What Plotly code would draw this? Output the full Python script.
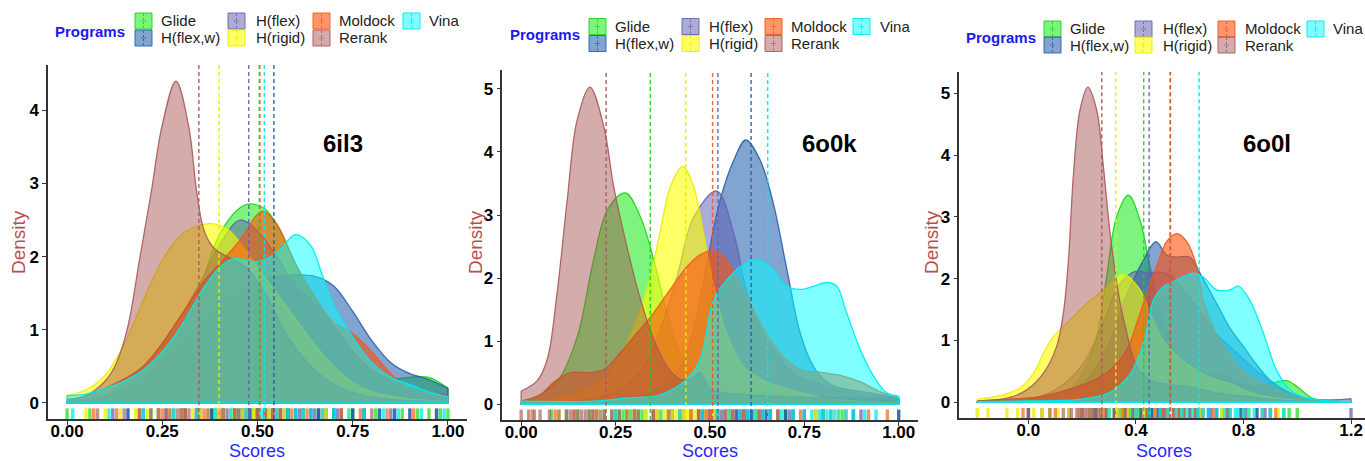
import plotly.graph_objects as go

W, H = 1365, 461

PROGRAMS = ["Glide", "H(flex,w)", "H(flex)", "H(rigid)", "Moldock", "Rerank", "Vina"]
PANEL_TITLES = ["6il3", "6o0k", "6o0l"]

# ---------------- Panel 1 (6il3) density curves ----------------
P1_GLIDE_X = [0.0, 0.1, 0.2, 0.25, 0.3, 0.35, 0.4, 0.45, 0.48, 0.52, 0.56, 0.6, 0.65, 0.7, 0.75, 0.8, 0.85, 0.9, 0.95, 1.0]
P1_GLIDE_Y = [0.02, 0.08, 0.3, 0.6, 1.0, 1.6, 2.3, 2.65, 2.72, 2.65, 2.35, 1.9, 1.45, 1.05, 0.7, 0.45, 0.33, 0.35, 0.35, 0.2]
P1_HFLEXW_X = [0.0, 0.1, 0.2, 0.3, 0.4, 0.5, 0.55, 0.6, 0.65, 0.7, 0.75, 0.8, 0.85, 0.9, 0.95, 1.0]
P1_HFLEXW_Y = [0.02, 0.08, 0.3, 0.8, 1.35, 1.65, 1.72, 1.75, 1.73, 1.6, 1.25, 0.85, 0.55, 0.4, 0.32, 0.2]
P1_HFLEX_X = [0.0, 0.1, 0.2, 0.3, 0.35, 0.4, 0.454, 0.5, 0.55, 0.6, 0.65, 0.7, 0.75, 0.8, 0.85, 0.9, 1.0]
P1_HFLEX_Y = [0.01, 0.1, 0.5, 1.2, 1.65, 2.15, 2.5, 2.35, 2.0, 1.6, 1.35, 1.05, 0.7, 0.45, 0.3, 0.2, 0.1]
P1_HRIGID_X = [0.0, 0.05, 0.1, 0.15, 0.2, 0.25, 0.3, 0.35, 0.38, 0.42, 0.46, 0.5, 0.55, 0.6, 0.65, 0.7, 0.75, 0.8, 0.9, 1.0]
P1_HRIGID_Y = [0.1, 0.18, 0.38, 0.8, 1.4, 1.95, 2.3, 2.43, 2.45, 2.38, 2.15, 1.85, 1.5, 1.15, 0.8, 0.5, 0.28, 0.15, 0.05, 0.02]
P1_MOLDOCK_X = [0.0, 0.1, 0.2, 0.3, 0.35, 0.4, 0.45, 0.5, 0.515, 0.55, 0.6, 0.65, 0.7, 0.75, 0.8, 0.85, 0.9, 1.0]
P1_MOLDOCK_Y = [0.02, 0.2, 0.5, 1.2, 1.6, 1.9, 2.2, 2.58, 2.62, 2.45, 1.9, 1.45, 1.1, 0.95, 0.7, 0.4, 0.2, 0.1]
P1_RERANK_X = [0.0, 0.05, 0.1, 0.13, 0.16, 0.19, 0.22, 0.25, 0.286, 0.32, 0.34, 0.36, 0.385, 0.42, 0.47, 0.52, 0.58, 0.65, 0.72, 0.8, 0.9, 1.0]
P1_RERANK_Y = [0.05, 0.1, 0.3, 0.55, 1.05, 1.95, 2.85, 3.8, 4.4, 3.76, 2.9, 2.35, 2.12, 2.0, 1.85, 1.5, 0.9, 0.45, 0.2, 0.08, 0.03, 0.02]
P1_VINA_X = [0.0, 0.05, 0.1, 0.15, 0.2, 0.25, 0.3, 0.35, 0.4, 0.437, 0.47, 0.5, 0.55, 0.6, 0.64, 0.67, 0.7, 0.75, 0.8, 0.85, 0.9, 0.95, 1.0]
P1_VINA_Y = [0.1, 0.12, 0.2, 0.3, 0.45, 0.7, 1.05, 1.5, 1.85, 1.97, 1.95, 1.93, 2.05, 2.3, 2.15, 1.75, 1.35, 0.9, 0.55, 0.35, 0.25, 0.15, 0.08]
P1_MEANS = [0.505, 0.543, 0.477, 0.399, 0.506, 0.346, 0.518]

# ---------------- Panel 2 (6o0k) density curves ----------------
P2_GLIDE_X = [0.0, 0.05, 0.1, 0.15, 0.19, 0.23, 0.276, 0.316, 0.351, 0.386, 0.42, 0.457, 0.5, 0.6, 0.7, 0.8, 0.9, 1.0]
P2_GLIDE_Y = [0.05, 0.15, 0.4, 1.1, 2.24, 3.1, 3.35, 2.97, 2.29, 1.45, 0.82, 0.5, 0.35, 0.2, 0.15, 0.12, 0.1, 0.05]
P2_HFLEXW_X = [0.0, 0.2, 0.369, 0.413, 0.457, 0.492, 0.527, 0.563, 0.595, 0.633, 0.668, 0.704, 0.739, 0.774, 0.81, 0.85, 0.9, 0.95, 1.0]
P2_HFLEXW_Y = [0.02, 0.05, 0.25, 0.5, 1.2, 2.24, 3.24, 3.87, 4.19, 3.87, 3.18, 2.13, 1.13, 0.6, 0.35, 0.25, 0.2, 0.15, 0.1]
P2_HFLEX_X = [0.0, 0.2, 0.28, 0.325, 0.369, 0.413, 0.457, 0.518, 0.563, 0.598, 0.633, 0.677, 0.72, 0.8, 0.9, 1.0]
P2_HFLEX_Y = [0.02, 0.1, 0.3, 0.6, 1.2, 2.03, 2.97, 3.38, 2.71, 1.76, 1.2, 0.8, 0.5, 0.3, 0.15, 0.1]
P2_HRIGID_X = [0.0, 0.1, 0.192, 0.236, 0.28, 0.333, 0.369, 0.395, 0.428, 0.457, 0.483, 0.51, 0.545, 0.589, 0.65, 0.7, 0.8, 0.9, 1.0]
P2_HRIGID_Y = [0.02, 0.1, 0.3, 0.5, 0.97, 1.82, 2.76, 3.45, 3.77, 3.45, 2.71, 1.87, 1.1, 0.6, 0.35, 0.25, 0.1, 0.05, 0.02]
P2_MOLDOCK_X = [0.0, 0.051, 0.086, 0.13, 0.175, 0.219, 0.263, 0.307, 0.351, 0.395, 0.439, 0.474, 0.505, 0.536, 0.571, 0.607, 0.651, 0.695, 0.739, 0.8, 0.85, 0.9, 0.95, 1.0]
P2_MOLDOCK_Y = [0.05, 0.15, 0.35, 0.5, 0.5, 0.55, 0.82, 1.13, 1.45, 1.82, 2.18, 2.37, 2.43, 2.34, 2.03, 1.6, 1.1, 0.75, 0.55, 0.5, 0.45, 0.35, 0.2, 0.1]
P2_RERANK_X = [0.0, 0.042, 0.069, 0.095, 0.122, 0.148, 0.182, 0.219, 0.245, 0.28, 0.316, 0.351, 0.386, 0.42, 0.45, 0.474, 0.5, 0.6, 0.8, 1.0]
P2_RERANK_Y = [0.21, 0.37, 0.71, 1.76, 3.24, 4.5, 5.03, 4.4, 3.45, 2.5, 1.66, 1.03, 0.6, 0.4, 0.4, 0.5, 0.25, 0.15, 0.1, 0.1]
P2_VINA_X = [0.0, 0.19, 0.28, 0.369, 0.439, 0.474, 0.51, 0.545, 0.58, 0.62, 0.66, 0.704, 0.739, 0.774, 0.81, 0.836, 0.862, 0.898, 0.933, 0.968, 1.0]
P2_VINA_Y = [0.05, 0.05, 0.1, 0.15, 0.4, 0.71, 1.66, 1.97, 2.18, 2.3, 2.18, 1.87, 1.82, 1.87, 1.93, 1.87, 1.45, 0.87, 0.45, 0.18, 0.13]
P2_MEANS = [0.342, 0.609, 0.521, 0.436, 0.507, 0.225, 0.653]

# ---------------- Panel 3 (6o0l) density curves ----------------
P3_GLIDE_X = [-0.19, 0.0, 0.155, 0.205, 0.254, 0.291, 0.328, 0.372, 0.415, 0.452, 0.49, 0.539, 0.589, 0.65, 0.7, 0.75, 0.8, 0.85, 0.9, 0.96, 1.0, 1.05, 1.1, 1.2]
P3_GLIDE_Y = [0.01, 0.05, 0.2, 0.5, 1.06, 2.03, 3.0, 3.35, 2.95, 2.2, 1.5, 0.9, 0.55, 0.45, 0.45, 0.4, 0.3, 0.25, 0.3, 0.35, 0.25, 0.08, 0.02, 0.01]
P3_HFLEXW_X = [-0.19, 0.0, 0.18, 0.242, 0.304, 0.353, 0.403, 0.428, 0.474, 0.515, 0.55, 0.6, 0.638, 0.7, 0.75, 0.8, 0.85, 0.9, 0.95, 1.0, 1.05, 1.2]
P3_HFLEXW_Y = [0.01, 0.05, 0.25, 0.5, 1.0, 1.6, 2.09, 2.3, 2.6, 2.38, 2.35, 2.35, 2.09, 1.6, 1.2, 0.9, 0.6, 0.35, 0.2, 0.1, 0.03, 0.01]
P3_HFLEX_X = [-0.19, 0.0, 0.1, 0.2, 0.28, 0.33, 0.37, 0.4, 0.45, 0.5, 0.53, 0.58, 0.65, 0.7, 0.75, 0.8, 0.85, 0.9, 0.95, 1.0, 1.05, 1.1, 1.15, 1.2]
P3_HFLEX_Y = [0.01, 0.05, 0.2, 0.6, 1.3, 1.85, 2.05, 2.12, 2.1, 2.1, 2.05, 1.8, 1.4, 1.1, 0.9, 0.7, 0.5, 0.35, 0.2, 0.1, 0.05, 0.04, 0.04, 0.06]
P3_HRIGID_X = [-0.19, -0.093, -0.031, 0.019, 0.056, 0.093, 0.143, 0.205, 0.279, 0.353, 0.415, 0.452, 0.502, 0.552, 0.614, 0.676, 0.75, 0.8, 0.85, 0.9, 1.0, 1.2]
P3_HRIGID_Y = [0.05, 0.12, 0.23, 0.47, 0.79, 1.06, 1.28, 1.55, 1.82, 2.07, 1.82, 1.44, 1.0, 0.75, 0.55, 0.4, 0.3, 0.2, 0.12, 0.08, 0.03, 0.01]
P3_MOLDOCK_X = [-0.19, -0.07, 0.056, 0.18, 0.242, 0.304, 0.366, 0.403, 0.44, 0.477, 0.514, 0.552, 0.589, 0.626, 0.65, 0.7, 0.75, 0.8, 0.85, 0.9, 0.95, 1.0, 1.05, 1.2]
P3_MOLDOCK_Y = [0.02, 0.05, 0.1, 0.25, 0.35, 0.52, 0.85, 1.28, 1.76, 2.2, 2.6, 2.73, 2.6, 2.2, 1.65, 1.1, 0.75, 0.5, 0.35, 0.25, 0.15, 0.08, 0.03, 0.01]
P3_RERANK_X = [-0.19, -0.068, -0.006, 0.056, 0.105, 0.13, 0.149, 0.167, 0.192, 0.221, 0.254, 0.279, 0.304, 0.335, 0.366, 0.403, 0.452, 0.5, 0.6, 0.7, 0.8, 0.9, 1.0, 1.2]
P3_RERANK_Y = [0.02, 0.08, 0.2, 0.47, 0.9, 1.44, 2.3, 3.65, 4.73, 5.1, 4.73, 3.81, 2.73, 1.76, 1.12, 0.58, 0.36, 0.3, 0.25, 0.15, 0.1, 0.05, 0.02, 0.01]
P3_VINA_X = [-0.19, 0.0, 0.2, 0.3, 0.328, 0.378, 0.428, 0.465, 0.502, 0.552, 0.614, 0.65, 0.7, 0.75, 0.781, 0.824, 0.874, 0.923, 0.973, 1.02, 1.1, 1.2]
P3_VINA_Y = [0.01, 0.02, 0.05, 0.15, 0.23, 0.45, 0.95, 1.65, 1.87, 1.98, 2.09, 2.03, 1.82, 1.82, 1.88, 1.65, 1.12, 0.52, 0.2, 0.09, 0.03, 0.01]
P3_MEANS = [0.429, 0.528, 0.449, 0.325, 0.528, 0.273, 0.635]

# ---------------- Rug values (individual scores) ----------------
P1_RUG_GLIDE = [0.0, 0.06, 0.22, 0.3, 0.35, 0.38, 0.41, 0.43, 0.45, 0.47, 0.49, 0.5, 0.52, 0.54, 0.56, 0.58, 0.62, 0.66, 0.7, 0.75, 0.81, 0.88, 0.92, 0.95, 0.98, 1.0]
P1_RUG_HFLEXW = [0.16, 0.24, 0.3, 0.34, 0.38, 0.41, 0.44, 0.46, 0.48, 0.5, 0.52, 0.54, 0.56, 0.58, 0.6, 0.62, 0.64, 0.66, 0.68, 0.7, 0.72, 0.75, 0.78, 0.82, 0.86, 0.9, 0.97]
P1_RUG_HFLEX = [0.12, 0.2, 0.26, 0.31, 0.35, 0.39, 0.42, 0.44, 0.46, 0.48, 0.5, 0.53, 0.57, 0.61, 0.65, 0.71, 0.78, 0.85]
P1_RUG_HRIGID = [0.05, 0.1, 0.14, 0.18, 0.21, 0.24, 0.27, 0.3, 0.33, 0.35, 0.37, 0.39, 0.41, 0.43, 0.46, 0.49, 0.53, 0.57, 0.62, 0.68, 0.74]
P1_RUG_MOLDOCK = [0.07, 0.13, 0.19, 0.25, 0.31, 0.36, 0.4, 0.44, 0.47, 0.5, 0.52, 0.54, 0.56, 0.59, 0.63, 0.67, 0.72, 0.77, 0.84, 0.91]
P1_RUG_RERANK = [0.08, 0.15, 0.19, 0.22, 0.24, 0.26, 0.27, 0.28, 0.29, 0.3, 0.31, 0.32, 0.34, 0.37, 0.41, 0.45, 0.5, 0.55, 0.62, 0.8]
P1_RUG_VINA = [0.015, 0.11, 0.2, 0.28, 0.34, 0.39, 0.43, 0.47, 0.51, 0.55, 0.58, 0.6, 0.62, 0.64, 0.67, 0.7, 0.74, 0.78, 0.83, 0.87, 0.93, 0.99]

P2_RUG_GLIDE = [0.08, 0.12, 0.15, 0.18, 0.2, 0.22, 0.24, 0.25, 0.26, 0.27, 0.28, 0.29, 0.3, 0.31, 0.32, 0.33, 0.35, 0.37, 0.39, 0.42, 0.47, 0.55, 0.7, 0.8, 0.85]
P2_RUG_HFLEXW = [0.4, 0.45, 0.48, 0.5, 0.52, 0.54, 0.55, 0.56, 0.57, 0.58, 0.59, 0.6, 0.61, 0.62, 0.63, 0.64, 0.65, 0.66, 0.68, 0.7, 0.72, 0.75, 0.8, 0.88, 1.0]
P2_RUG_HFLEX = [0.3, 0.36, 0.4, 0.43, 0.45, 0.47, 0.49, 0.5, 0.51, 0.52, 0.53, 0.55, 0.57, 0.59, 0.62, 0.66, 0.71, 0.78, 0.9]
P2_RUG_HRIGID = [0.1, 0.2, 0.28, 0.33, 0.36, 0.38, 0.4, 0.41, 0.42, 0.43, 0.44, 0.45, 0.46, 0.47, 0.49, 0.51, 0.55, 0.62, 0.78, 0.84]
P2_RUG_MOLDOCK = [0.03, 0.09, 0.14, 0.19, 0.25, 0.3, 0.35, 0.39, 0.42, 0.45, 0.47, 0.49, 0.5, 0.52, 0.54, 0.56, 0.59, 0.63, 0.68, 0.74, 0.8, 0.86, 0.92, 0.97]
P2_RUG_RERANK = [0.0, 0.02, 0.035, 0.05, 0.075, 0.1, 0.12, 0.13, 0.14, 0.15, 0.16, 0.17, 0.18, 0.19, 0.2, 0.21, 0.22, 0.24, 0.26, 0.28, 0.31, 0.35, 0.47, 0.82]
P2_RUG_VINA = [0.25, 0.42, 0.48, 0.52, 0.55, 0.58, 0.6, 0.62, 0.64, 0.66, 0.69, 0.72, 0.75, 0.77, 0.79, 0.8, 0.81, 0.82, 0.83, 0.84, 0.86, 0.88, 0.91, 0.94]

P3_RUG_GLIDE = [0.15, 0.2, 0.24, 0.27, 0.3, 0.32, 0.34, 0.35, 0.36, 0.37, 0.38, 0.39, 0.4, 0.41, 0.42, 0.44, 0.46, 0.5, 0.56, 0.63, 0.72, 0.8, 0.9, 0.95, 0.97, 1.0]
P3_RUG_HFLEXW = [0.0, 0.15, 0.25, 0.32, 0.37, 0.4, 0.42, 0.44, 0.46, 0.47, 0.48, 0.49, 0.5, 0.52, 0.54, 0.56, 0.58, 0.6, 0.62, 0.64, 0.67, 0.7, 0.74, 0.79, 0.85]
P3_RUG_HFLEX = [0.05, 0.15, 0.23, 0.29, 0.33, 0.36, 0.39, 0.42, 0.45, 0.48, 0.51, 0.54, 0.58, 0.63, 0.68, 0.74, 0.81, 0.88, 1.2]
P3_RUG_HRIGID = [-0.19, -0.15, -0.08, -0.04, 0.02, 0.05, 0.08, 0.11, 0.15, 0.19, 0.23, 0.27, 0.3, 0.33, 0.35, 0.37, 0.4, 0.43, 0.47, 0.52, 0.57, 0.64, 0.72, 0.82, 0.93]
P3_RUG_MOLDOCK = [-0.02, 0.1, 0.2, 0.28, 0.35, 0.4, 0.44, 0.47, 0.5, 0.52, 0.54, 0.55, 0.56, 0.57, 0.58, 0.6, 0.62, 0.65, 0.69, 0.74, 0.8, 0.87, 0.92]
P3_RUG_RERANK = [0.0, 0.08, 0.13, 0.16, 0.18, 0.19, 0.2, 0.21, 0.22, 0.23, 0.24, 0.25, 0.26, 0.27, 0.29, 0.32, 0.36, 0.45, 0.6, 0.75, 0.9]
P3_RUG_VINA = [0.3, 0.4, 0.45, 0.49, 0.52, 0.55, 0.57, 0.59, 0.61, 0.63, 0.65, 0.67, 0.7, 0.73, 0.75, 0.77, 0.78, 0.8, 0.82, 0.84, 0.87, 0.9, 0.95]

# Axis ticks
P12_TICKS = [0.0, 0.25, 0.5, 0.75, 1.0]
P3_TICKS = [0.0, 0.4, 0.8, 1.2]

# ---------------- Styles ----------------
FILL = {
    "Glide": "rgba(20,235,20,0.55)",
    "H(flex,w)": "rgba(25,90,170,0.55)",
    "H(flex)": "rgba(90,90,175,0.5)",
    "H(rigid)": "rgba(255,255,0,0.6)",
    "Moldock": "rgba(255,80,10,0.6)",
    "Rerank": "rgba(160,70,70,0.45)",
    "Vina": "rgba(0,255,255,0.5)",
}
LINE = {
    "Glide": "rgba(30,210,30,0.9)",
    "H(flex,w)": "rgba(40,95,170,0.9)",
    "H(flex)": "rgba(100,100,175,0.9)",
    "H(rigid)": "rgba(235,235,0,0.9)",
    "Moldock": "rgba(240,90,30,0.9)",
    "Rerank": "rgba(170,90,90,0.9)",
    "Vina": "rgba(0,235,240,0.95)",
}
RUGC = {
    "Glide": "rgba(40,220,40,0.75)",
    "H(flex,w)": "rgba(25,85,165,0.85)",
    "H(flex)": "rgba(100,100,180,0.75)",
    "H(rigid)": "rgba(240,240,0,0.8)",
    "Moldock": "rgba(250,110,40,0.75)",
    "Rerank": "rgba(170,100,100,0.7)",
    "Vina": "rgba(0,235,235,0.75)",
}

FONT = "Liberation Sans, Arial, sans-serif"

panels = [
    dict(
        curves={"Glide": (P1_GLIDE_X, P1_GLIDE_Y), "H(flex,w)": (P1_HFLEXW_X, P1_HFLEXW_Y),
                "H(flex)": (P1_HFLEX_X, P1_HFLEX_Y), "H(rigid)": (P1_HRIGID_X, P1_HRIGID_Y),
                "Moldock": (P1_MOLDOCK_X, P1_MOLDOCK_Y), "Rerank": (P1_RERANK_X, P1_RERANK_Y),
                "Vina": (P1_VINA_X, P1_VINA_Y)},
        means=P1_MEANS,
        rug={"Glide": P1_RUG_GLIDE, "H(flex,w)": P1_RUG_HFLEXW, "H(flex)": P1_RUG_HFLEX,
             "H(rigid)": P1_RUG_HRIGID, "Moldock": P1_RUG_MOLDOCK, "Rerank": P1_RUG_RERANK,
             "Vina": P1_RUG_VINA},
        ticks=P12_TICKS, tickfmt=".2f", yticks=[0, 1, 2, 3, 4],
        xdom=(48, 467), ydom=(65, 419), xr=[-0.05, 1.05], yr=[-0.22, 4.62],
        title_pos=(343, 143), dens_x=18, scores_x=257,
    ),
    dict(
        curves={"Glide": (P2_GLIDE_X, P2_GLIDE_Y), "H(flex,w)": (P2_HFLEXW_X, P2_HFLEXW_Y),
                "H(flex)": (P2_HFLEX_X, P2_HFLEX_Y), "H(rigid)": (P2_HRIGID_X, P2_HRIGID_Y),
                "Moldock": (P2_MOLDOCK_X, P2_MOLDOCK_Y), "Rerank": (P2_RERANK_X, P2_RERANK_Y),
                "Vina": (P2_VINA_X, P2_VINA_Y)},
        means=P2_MEANS,
        rug={"Glide": P2_RUG_GLIDE, "H(flex,w)": P2_RUG_HFLEXW, "H(flex)": P2_RUG_HFLEX,
             "H(rigid)": P2_RUG_HRIGID, "Moldock": P2_RUG_MOLDOCK, "Rerank": P2_RUG_RERANK,
             "Vina": P2_RUG_VINA},
        ticks=P12_TICKS, tickfmt=".2f", yticks=[0, 1, 2, 3, 4, 5],
        xdom=(502.3, 917.6), ydom=(70, 420), xr=[-0.05, 1.05], yr=[-0.25, 5.3],
        title_pos=(830, 143), dens_x=475, scores_x=710,
    ),
    dict(
        curves={"Glide": (P3_GLIDE_X, P3_GLIDE_Y), "H(flex,w)": (P3_HFLEXW_X, P3_HFLEXW_Y),
                "H(flex)": (P3_HFLEX_X, P3_HFLEX_Y), "H(rigid)": (P3_HRIGID_X, P3_HRIGID_Y),
                "Moldock": (P3_MOLDOCK_X, P3_MOLDOCK_Y), "Rerank": (P3_RERANK_X, P3_RERANK_Y),
                "Vina": (P3_VINA_X, P3_VINA_Y)},
        means=P3_MEANS,
        rug={"Glide": P3_RUG_GLIDE, "H(flex,w)": P3_RUG_HFLEXW, "H(flex)": P3_RUG_HFLEX,
             "H(rigid)": P3_RUG_HRIGID, "Moldock": P3_RUG_MOLDOCK, "Rerank": P3_RUG_RERANK,
             "Vina": P3_RUG_VINA},
        ticks=P3_TICKS, tickfmt=".1f", yticks=[0, 1, 2, 3, 4, 5],
        xdom=(959.3, 1365), ydom=(71.7, 418.3), xr=[-0.257, 1.252], yr=[-0.26, 5.35],
        title_pos=(1267, 143), dens_x=931, scores_x=1164,
    ),
]

LEGENDS = [
    dict(prog=(90, 31), sw=[135, 228, 313, 403], tx=[159, 254, 337, 427], rows=[21, 38]),
    dict(prog=(544.5, 35), sw=[589, 682, 765, 853], tx=[613, 707, 789, 878], rows=[26.5, 43.5]),
    dict(prog=(1001, 37.7), sw=[1044, 1135, 1218, 1307], tx=[1068, 1161, 1243, 1331], rows=[29, 45]),
]
LEGEND_COLS = [["Glide", "H(flex,w)"], ["H(flex)", "H(rigid)"], ["Moldock", "Rerank"], ["Vina"]]


def fx(px):
    return px / W


def fy(py):
    return 1 - py / H


fig = go.Figure()
shapes = []
annotations = []
layout_axes = {}

for i, p in enumerate(panels):
    sfx = "" if i == 0 else str(i + 1)
    xa, ya = "x" + sfx, "y" + sfx
    ylo, yhi = p["yr"]
    rug_top = ylo + 0.03 * (yhi - ylo)

    # densities (drawn in factor order, Vina last)
    for prog in PROGRAMS:
        xs, ys = p["curves"][prog]
        fig.add_trace(go.Scatter(
            x=xs, y=ys, mode="lines", xaxis=xa, yaxis=ya,
            line=dict(shape="spline", smoothing=1.0, color=LINE[prog], width=1.3),
            fill="tozeroy", fillcolor=FILL[prog], showlegend=False, hoverinfo="skip"))
        fig.add_trace(go.Scatter(
            x=[xs[0], xs[0], xs[-1], xs[-1]], y=[ys[0], 0, 0, ys[-1]], mode="lines",
            xaxis=xa, yaxis=ya, line=dict(color=LINE[prog], width=1.3),
            showlegend=False, hoverinfo="skip"))

    # rug
    for prog in PROGRAMS:
        rx, ry = [], []
        for v in p["rug"][prog]:
            rx += [v, v, None]
            ry += [ylo, rug_top, None]
        fig.add_trace(go.Scatter(
            x=rx, y=ry, mode="lines", xaxis=xa, yaxis=ya,
            line=dict(color=RUGC[prog], width=3.4), showlegend=False, hoverinfo="skip"))

    # mean lines
    for prog, m in zip(PROGRAMS, p["means"]):
        fig.add_trace(go.Scatter(
            x=[m, m], y=[ylo, yhi], mode="lines", xaxis=xa, yaxis=ya,
            line=dict(color=LINE[prog], width=1.5, dash="4px,3px"),
            showlegend=False, hoverinfo="skip"))

    x0, x1 = p["xdom"]
    y0, y1 = p["ydom"]
    axis_common = dict(showgrid=False, zeroline=False, showline=True, linecolor="#333333",
                       linewidth=1.5, ticks="outside", ticklen=4, tickwidth=1.3,
                       tickcolor="#333333",
                       tickfont=dict(family=FONT, size=17, color="black", weight="bold"))
    layout_axes["xaxis" + sfx] = dict(axis_common, domain=[fx(x0), fx(x1)], range=p["xr"],
                                      anchor=ya, tickvals=p["ticks"], tickformat=p["tickfmt"],
                                      ticklabelstandoff=-8)
    layout_axes["yaxis" + sfx] = dict(axis_common, domain=[fy(y1), fy(y0)], range=p["yr"],
                                      anchor=xa, tickvals=p["yticks"])

    # panel title
    tx, ty = p["title_pos"]
    annotations.append(dict(x=fx(tx), y=fy(ty), xref="paper", yref="paper", text=PANEL_TITLES[i],
                            showarrow=False, xanchor="center", yanchor="middle",
                            font=dict(family=FONT, size=24, color="black", weight="bold")))
    # axis titles
    annotations.append(dict(x=fx(p["dens_x"]), y=fy(242), xref="paper", yref="paper", text="Density",
                            textangle=-90, showarrow=False, xanchor="center", yanchor="middle",
                            font=dict(family=FONT, size=19, color="#b5504e")))
    annotations.append(dict(x=fx(p["scores_x"]), y=fy(451), xref="paper", yref="paper", text="Scores",
                            showarrow=False, xanchor="center", yanchor="middle",
                            font=dict(family=FONT, size=18, color="#2a2aff")))

    # legend
    lg = LEGENDS[i]
    annotations.append(dict(x=fx(lg["prog"][0]), y=fy(lg["prog"][1]), xref="paper", yref="paper",
                            text="Programs", showarrow=False, xanchor="center", yanchor="middle",
                            font=dict(family=FONT, size=15, color="#1a1aee", weight="bold")))
    for c, col in enumerate(LEGEND_COLS):
        for r, prog in enumerate(col):
            rc = lg["rows"][r]
            sx = lg["sw"][c]
            shapes.append(dict(type="rect", xref="paper", yref="paper",
                               x0=fx(sx), x1=fx(sx + 17), y0=fy(rc + 8), y1=fy(rc - 8),
                               fillcolor=FILL[prog], line=dict(color=LINE[prog], width=1)))
            shapes.append(dict(type="line", xref="paper", yref="paper",
                               x0=fx(sx + 8.5), x1=fx(sx + 8.5), y0=fy(rc + 7), y1=fy(rc - 7),
                               line=dict(color=LINE[prog], width=1, dash="2px,2px")))
            shapes.append(dict(type="line", xref="paper", yref="paper",
                               x0=fx(sx + 6), x1=fx(sx + 11), y0=fy(rc), y1=fy(rc),
                               line=dict(color=LINE[prog], width=0.8)))
            annotations.append(dict(x=fx(lg["tx"][c]), y=fy(rc), xref="paper", yref="paper",
                                    text=prog, showarrow=False, xanchor="left", yanchor="middle",
                                    font=dict(family=FONT, size=15, color="#222222")))

fig.update_layout(
    width=W, height=H, margin=dict(l=0, r=0, t=0, b=0),
    paper_bgcolor="white", plot_bgcolor="white",
    showlegend=False, shapes=shapes, annotations=annotations,
    **layout_axes,
)

fig.write_html("out.html", config={"displayModeBar": False},
               post_script="document.body.style.margin='0px';document.body.style.overflow='hidden';")
